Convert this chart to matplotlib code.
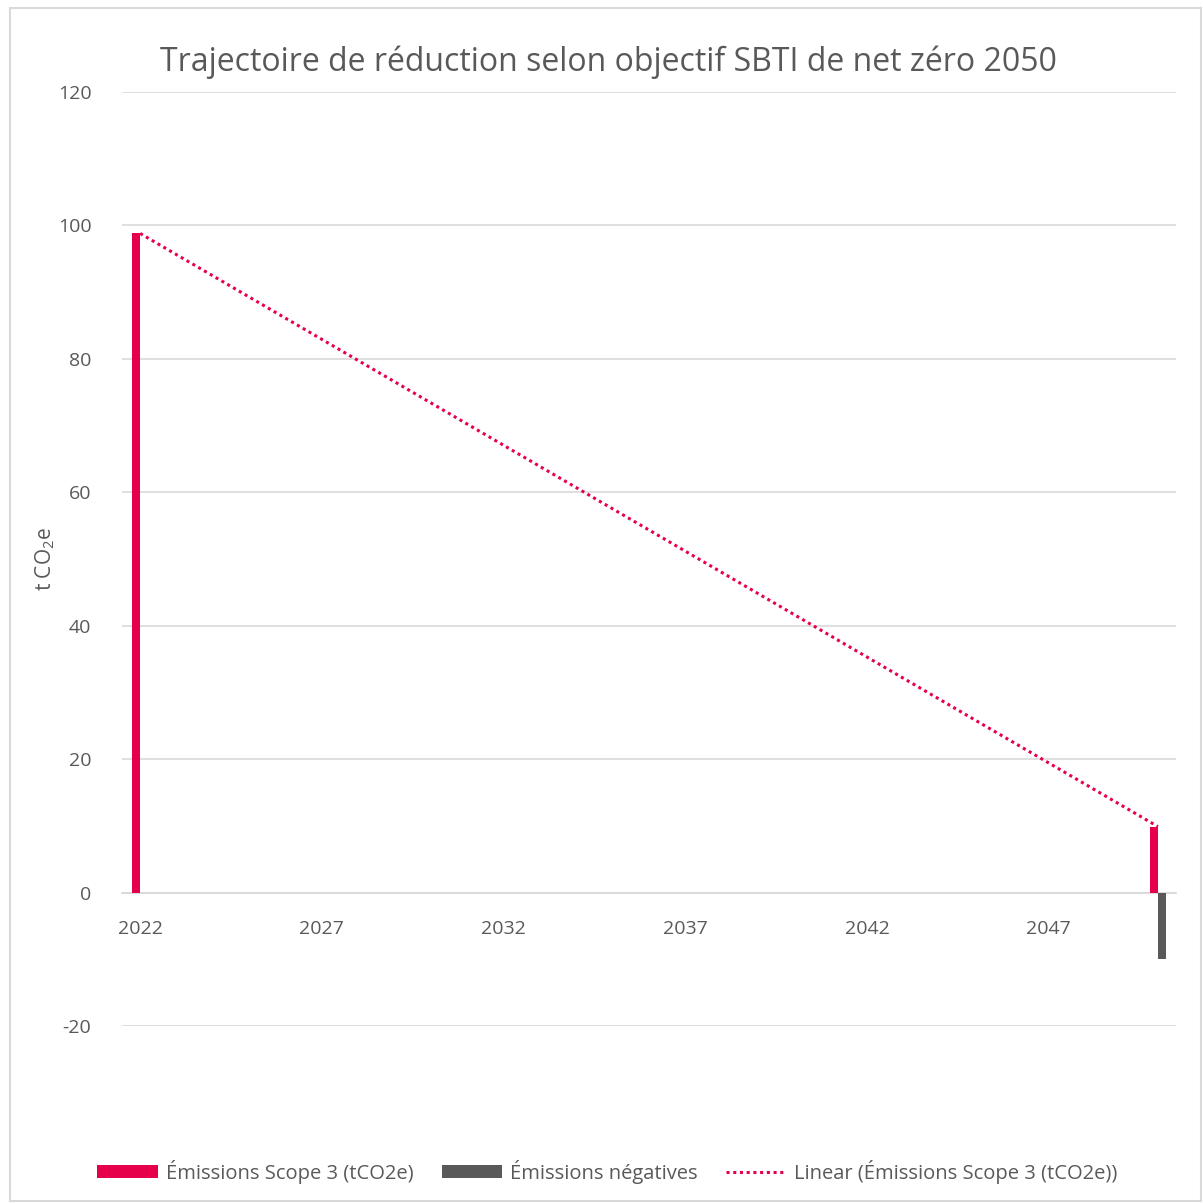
import numpy as np
import matplotlib.pyplot as plt
from matplotlib.patches import Rectangle

plt.rcParams['font.family'] = ['Open Sans', 'DejaVu Sans']

# Years on the category axis and the two bar series (None = empty cell)
years = list(range(2022, 2051))
scope3 = {2022: 98.8, 2050: 9.9}
negatives = {2050: -9.9}
tick_years = [2022, 2027, 2032, 2037, 2042, 2047]
yticks = [-20, 0, 20, 40, 60, 80, 100, 120]

RED = '#E6004C'
DARK = '#595959'
GRID = '#D9D9D9'
TXT = '#595959'

fig = plt.figure(figsize=(12.03, 12.03), dpi=100)
ax = fig.add_axes([0.1014, 0.1471, 0.8762, 0.7764])

x = np.arange(len(years))
w = 0.22
s3 = np.array([scope3.get(y, np.nan) for y in years])
neg = np.array([negatives.get(y, np.nan) for y in years])

b1 = ax.bar(x - w / 2, np.nan_to_num(s3), width=w, color=RED, zorder=3)
b2 = ax.bar(x + w / 2, np.nan_to_num(neg), width=w, color=DARK, zorder=3)

# linear trendline through the filled scope 3 points
mask = ~np.isnan(s3)
k, b = np.polyfit(x[mask] + 1, s3[mask], 1)
xt = np.array([0, len(years) - 1])
ln, = ax.plot(xt, k * (xt + 1) + b, linestyle=(0, (1, 1.2)), color=RED, lw=2.2, zorder=4)

ax.set_xlim(-0.5, len(years) - 0.5)
ax.set_ylim(-20, 120)
ax.set_yticks(yticks)
ax.set_yticklabels([str(v) for v in yticks])
ax.set_xticks([years.index(y) for y in tick_years])
ax.set_xticklabels([str(y) for y in tick_years])
ax.yaxis.grid(True, color=GRID, lw=1.2, zorder=0)
ax.set_axisbelow(True)
for s in ['top', 'right', 'left']:
    ax.spines[s].set_visible(False)
ax.spines['bottom'].set_position(('data', 0))
ax.spines['bottom'].set_color(GRID)
ax.spines['bottom'].set_linewidth(1.2)
ax.tick_params(axis='both', length=0, labelsize=14, labelcolor=TXT)
ax.tick_params(axis='x', pad=20)
ax.tick_params(axis='y', pad=22)

ax.set_ylabel(r't CO$_\mathregular{2}$e', fontsize=15, color=TXT, labelpad=-2)
ax.yaxis.set_label_coords(-0.062, 0.5)
fig.text(0.506, 0.948, 'Trajectoire de réduction selon objectif SBTI de net zéro 2050',
         ha='center', va='center', fontsize=23, color=TXT)

fig.legend([b1, b2, ln],
           ['Émissions Scope 3 (tCO2e)', 'Émissions négatives',
            'Linear (Émissions Scope 3 (tCO2e))'],
           loc='center', bbox_to_anchor=(0.505, 0.026), ncol=3, frameon=False,
           fontsize=14.5, labelcolor=TXT, handlelength=3.0, handleheight=0.6,
           columnspacing=1.4, handletextpad=0.4)

fig.patches.append(Rectangle((0.008, 0.002), 0.99, 0.991, transform=fig.transFigure,
                             fill=False, edgecolor=GRID, lw=1.5))

fig.savefig('out.png', dpi=100)
